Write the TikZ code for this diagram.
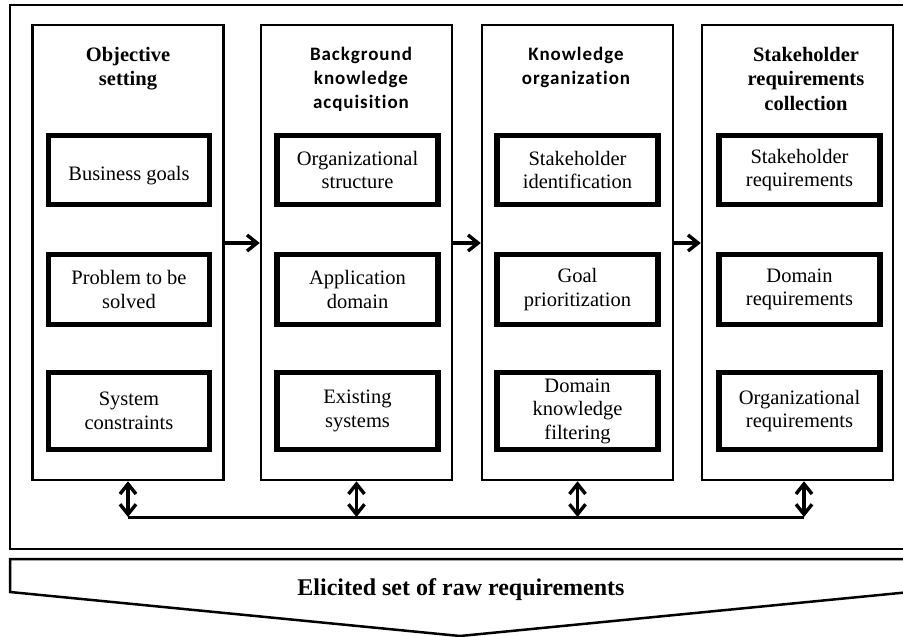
\documentclass[tikz,border=0pt]{standalone}
\usepackage{fontspec}
\setmainfont{Liberation Serif}
\newfontfamily\calfont[LetterSpace=5, Ligatures=NoCommon]{Carlito}
\usetikzlibrary{arrows.meta}

\begin{document}
\begin{tikzpicture}[x=1pt,y=-1pt,
  frame/.style={draw, line width=2.5pt},
  column/.style={draw, line width=2.5pt, minimum width=191pt, minimum height=455pt, inner sep=0pt},
  item/.style={draw, line width=5.5pt, minimum width=161pt, align=center, inner sep=0pt,
    font=\fontsize{20.5}{23.5}\selectfont},
  head/.style={anchor=north, align=center, inner sep=0pt, font=\bfseries\fontsize{20.5}{24.5}\selectfont},
  headcal/.style={head, font=\calfont\bfseries\fontsize{19}{24}\selectfont},
  tip/.style={},
  flow/.style={line width=3.4pt, -{Straight Barb[length=10pt,width=16pt]}},
  link/.style={line width=3.4pt, {Straight Barb[length=10pt,width=16pt]}-{Straight Barb[length=10pt,width=16pt]}},
  bus/.style={line width=3pt},
]
\useasboundingbox (0,0) rectangle (903,637);
\fill[white] (0,0) rectangle (903,637);

% outer frame and the output chevron
\draw[frame] (10,5) rectangle (915,549);
\draw[frame, line join=miter] (10,559) -- (910,559) -- (910,592) -- (460,636) -- (10,592) -- cycle;
\node[anchor=base, inner sep=0pt, font=\bfseries\fontsize{24}{28}\selectfont] (out) at (461,595)
  {Elicited set of raw requirements};

% the four activity columns
\node[column] (c1) at (128,252.5) {};
\node[column] (c2) at (356.5,252.5) {};
\node[column] (c3) at (577.5,252.5) {};
\node[column] (c4) at (797.5,252.5) {};

% column headings
\node[head] (h1) at (128,47) {Objective\\setting};
\node[headcal] (h2) at (361,47) {Background\\knowledge\\acquisition};
\node[headcal] (h3) at (576,47) {Knowledge\\organization};
\node[head] (h4) at (806,47) {Stakeholder\\requirements\\collection};

% items inside each column
\node[item, minimum height=69pt, text height=26pt] (i11) at (129,170) {Business goals};
\node[item, minimum height=70pt] (i12) at (129,289.5) {Problem to be\\solved};
\node[item, minimum height=77pt] (i13) at (129,411) {System\\constraints};

\node[item, minimum height=69pt] (i21) at (357.5,170) {Organizational\\structure};
\node[item, minimum height=70pt] (i22) at (357.5,289.5) {Application\\domain};
\node[item, minimum height=77pt] (i23) at (357.5,411) {Existing\\systems};

\node[item, minimum height=69pt] (i31) at (577.5,170) {Stakeholder\\identification};
\node[item, minimum height=70pt] (i32) at (577.5,289.5) {Goal\\prioritization};
\node[item, minimum height=77pt] (i33) at (577.5,411) {Domain\\knowledge\\filtering};

\node[item, minimum height=69pt] (i41) at (799.5,170) {Stakeholder\\requirements};
\node[item, minimum height=70pt] (i42) at (799.5,289.5) {Domain\\requirements};
\node[item, minimum height=77pt] (i43) at (799.5,411) {Organizational\\requirements};

% sequence between columns
\draw[flow] ([yshift=9.5pt]c1.east) -- ([yshift=9.5pt]c2.west);
\draw[flow] ([yshift=9.5pt]c2.east) -- ([yshift=9.5pt]c3.west);
\draw[flow] ([yshift=9.5pt]c3.east) -- ([yshift=9.5pt]c4.west);

% shared feedback bus under the columns
\coordinate (t4) at ([xshift=6.5pt]c4.south);
\coordinate (b1) at (c1.south |- 0,517);
\coordinate (b2) at (c2.south |- 0,517);
\coordinate (b3) at (c3.south |- 0,517);
\coordinate (b4) at (t4 |- 0,517);
\draw[bus] (b1) -- (b4);
\draw[link] (c1.south) -- (b1);
\draw[link] (c2.south) -- (b2);
\draw[link] (c3.south) -- (b3);
\draw[link] (t4) -- (b4);
\end{tikzpicture}
\end{document}
